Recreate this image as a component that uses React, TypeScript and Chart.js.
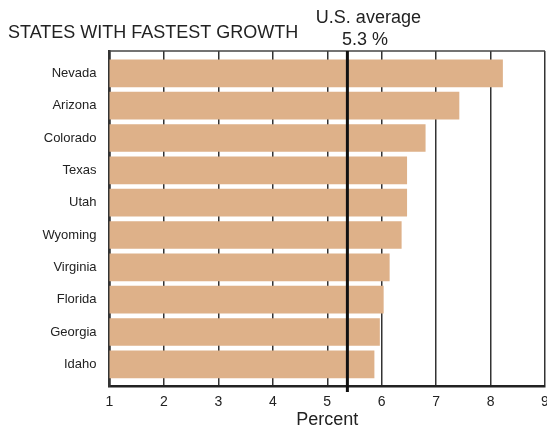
import React, { useEffect, useRef } from "react";
import { Chart, registerables } from "chart.js";

Chart.register(...registerables);

const states = ["Nevada", "Arizona", "Colorado", "Texas", "Utah", "Wyoming", "Virginia", "Florida", "Georgia", "Idaho"];
const growth = [8.22, 7.42, 6.8, 6.46, 6.46, 6.36, 6.14, 6.03, 5.96, 5.86];
const xTicks = [1, 2, 3, 4, 5, 6, 7, 8, 9];
const usAverage = 5.37;
const usAverageLabel = ["U.S. average", "5.3 %"];
const chartTitle = "STATES WITH FASTEST GROWTH";
const xTitle = "Percent";

const SANS = '"Liberation Sans", Arial, Helvetica, sans-serif';
const NARROW = '"Liberation Sans Narrow", "Arial Narrow", "Liberation Sans", sans-serif';

const Y_MIN = -0.69;
const Y_MAX = 9.67;

export default function App() {
  const ref = useRef<HTMLCanvasElement | null>(null);

  useEffect(() => {
    document.body.style.margin = "0";
    const canvas = ref.current;
    if (!canvas) return;

    const overlay = {
      id: "overlay",
      afterDraw(chart: any) {
        const { ctx, chartArea } = chart;
        const xs = chart.scales.x;
        ctx.save();
        ctx.strokeStyle = "#444";
        ctx.lineWidth = 1.5;
        ctx.beginPath();
        ctx.moveTo(chartArea.left, chartArea.top);
        ctx.lineTo(chartArea.right, chartArea.top);
        ctx.stroke();
        const ax = xs.getPixelForValue(usAverage);
        ctx.strokeStyle = "#111";
        ctx.lineWidth = 3;
        ctx.beginPath();
        ctx.moveTo(ax, chartArea.top);
        ctx.lineTo(ax, chartArea.bottom + 6);
        ctx.stroke();
        ctx.fillStyle = "#222";
        ctx.textBaseline = "alphabetic";
        ctx.textAlign = "left";
        ctx.font = `18px ${SANS}`;
        ctx.fillText(chartTitle, 8, 38);
        ctx.textAlign = "center";
        ctx.fillText(usAverageLabel[0], ax + 21, 23);
        ctx.fillText(usAverageLabel[1], ax + 17.5, 45);
        ctx.restore();
      },
    };

    const chart = new Chart(canvas, {
      type: "bar",
      data: {
        datasets: [
          {
            data: growth.map((v, i) => ({ x: v, y: i })),
            backgroundColor: "#DEB189",
            borderWidth: 0,
            barThickness: 27,
          },
        ],
      },
      options: {
        animation: false,
        responsive: false,
        indexAxis: "y",
        layout: { padding: { left: 0, right: 2, top: 51, bottom: 0 } },
        plugins: {
          legend: { display: false },
          tooltip: { enabled: false },
          title: { display: false },
        },
        scales: {
          x: {
            type: "linear",
            min: 1,
            max: 9,
            z: 1,
            afterBuildTicks: (axis: any) => {
              axis.ticks = xTicks.map((v) => ({ value: v }));
              axis.min = 1;
              axis.max = 9;
            },
            afterFit: (axis: any) => {
              axis.height = 41;
              axis.paddingLeft = 0;
              axis.paddingRight = 0;
            },
            grid: { color: "#333", lineWidth: 1.5, drawTicks: false },
            border: { display: true, color: "#222", width: 2.5 },
            ticks: {
              color: "#222",
              font: { family: NARROW, size: 14 },
              padding: 8,
              maxRotation: 0,
            },
            title: {
              display: true,
              text: xTitle,
              color: "#222",
              font: { family: SANS, size: 18 },
              padding: { top: 0, bottom: -4 },
            },
          },
          y: {
            type: "linear",
            reverse: true,
            min: Y_MIN,
            max: Y_MAX,
            bounds: "data",
            offset: false,
            grace: 0,
            afterBuildTicks: (axis: any) => {
              axis.ticks = states.map((_, i) => ({ value: i }));
              axis.min = Y_MIN;
              axis.max = Y_MAX;
            },
            afterFit: (axis: any) => {
              axis.width = 109.5;
              axis.paddingTop = 0;
              axis.paddingBottom = 0;
            },
            grid: { display: false, drawTicks: false },
            border: { display: true, color: "#333", width: 2.5 },
            ticks: {
              color: "#222",
              font: { family: SANS, size: 13 },
              padding: 13,
              callback: (v: any) => states[Number(v)] ?? "",
            },
          },
        },
      },
      plugins: [overlay],
    } as any);

    return () => chart.destroy();
  }, []);

  return (
    <div style={{ position: "absolute", left: 0, top: 0, width: 547, height: 427 }}>
      <canvas ref={ref} width={547} height={427} />
    </div>
  );
}
